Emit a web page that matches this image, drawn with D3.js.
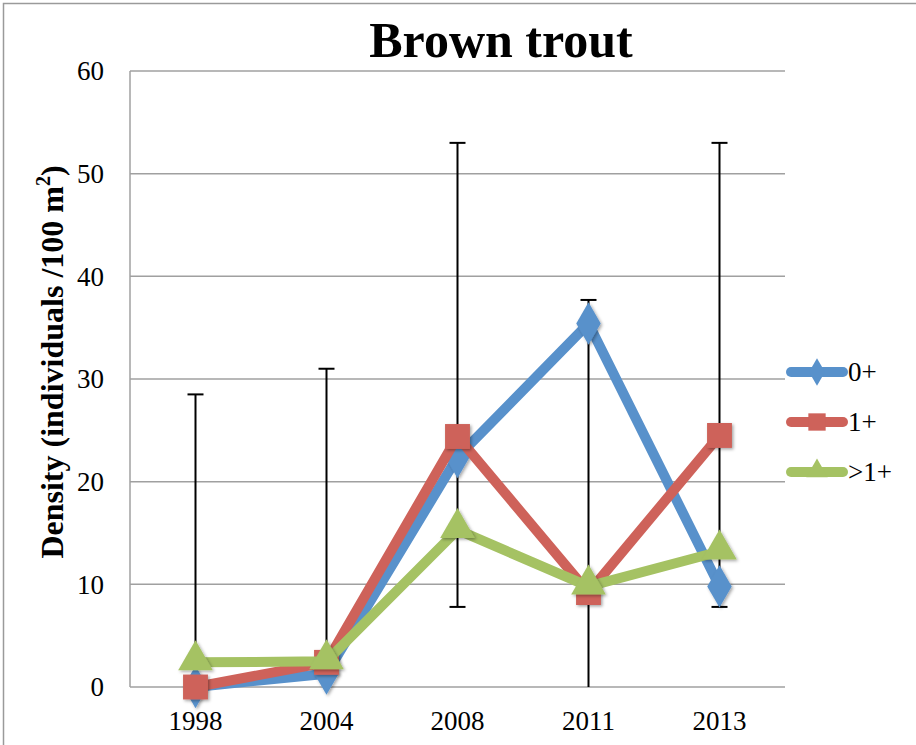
<!DOCTYPE html>
<html><head><meta charset="utf-8">
<script src="https://cdnjs.cloudflare.com/ajax/libs/d3/7.8.5/d3.min.js"></script>
<style>body{margin:0;background:#fff}svg{display:block}</style>
</head><body>
<script>
const years = ["1998","2004","2008","2011","2013"];
const seriesNames = ["0+","1+",">1+"];
const age0 = [0, 1.3, 22.4, 35.4, 9.8];
const age1 = [0, 2.4, 24.4, 9.2, 24.5];
const ageOlder = [2.4, 2.5, 15.3, 9.8, 13.2];
const errLow = [0, 0, 7.8, 0, 7.8];
const errHigh = [28.5, 31.0, 53.0, 37.7, 53.0];
const yTicks = [0,10,20,30,40,50,60];
const colors = ["#5891CB","#CE625A","#A5C263"];
const symbols = [d3.symbolDiamond, d3.symbolSquare, d3.symbolTriangle];

const W=916,H=745;
const svg=d3.select("body").append("svg").attr("width",W).attr("height",H);
const defs=svg.append("defs");
const f=defs.append("filter").attr("id","sh").attr("x","-50%").attr("y","-50%").attr("width","200%").attr("height","200%");
f.append("feDropShadow").attr("dx",1.5).attr("dy",1.5).attr("stdDeviation",1.5).attr("flood-color","#000").attr("flood-opacity",0.35);

svg.append("rect").attr("x",3.5).attr("y",3.5).attr("width",W+10).attr("height",H+10).attr("fill","none").attr("stroke","#9a9a9a").attr("stroke-width",1.5);

const L=130,R=785,T=71,B=687;
const x=d3.scaleBand().domain(years).range([L,R]);
const y=d3.scaleLinear().domain([0,60]).range([B,T]);
const serif="'Liberation Serif','DejaVu Serif',serif";

// gridlines
svg.append("g").selectAll("line").data(yTicks).join("line")
 .attr("x1",L).attr("x2",R).attr("y1",d=>y(d)).attr("y2",d=>y(d))
 .attr("stroke","#a0a0a0").attr("stroke-width",1.5);
svg.append("line").attr("x1",L).attr("x2",L).attr("y1",T).attr("y2",B).attr("stroke","#a0a0a0").attr("stroke-width",1.5);

// y tick labels
svg.append("g").selectAll("text").data(yTicks).join("text")
 .attr("x",104).attr("y",d=>y(d)).attr("dy","0.35em").attr("text-anchor","end")
 .attr("font-family",serif).attr("font-size",27).text(d=>d);
// x labels
svg.append("g").selectAll("text").data(years).join("text")
 .attr("x",d=>x(d)+x.bandwidth()/2).attr("y",730).attr("text-anchor","middle")
 .attr("font-family",serif).attr("font-size",27).text(d=>d);

// title
svg.append("text").attr("x",501).attr("y",57).attr("text-anchor","middle")
 .attr("font-family",serif).attr("font-weight","bold").attr("font-size",50).text("Brown trout");

// y label
const yl=svg.append("text").attr("transform","translate(63,362) rotate(-90)").attr("text-anchor","middle")
 .attr("font-family",serif).attr("font-weight","bold").attr("font-size",32);
yl.append("tspan").text("Density (individuals /100 m");
yl.append("tspan").attr("font-size",20).attr("dy",-13).text("2");
yl.append("tspan").attr("dy",13).text(")");

// error bars
const cx=d=>x(d)+x.bandwidth()/2;
const eb=svg.append("g").attr("stroke","#000").attr("stroke-width",2);
years.forEach((yr,i)=>{
  eb.append("line").attr("x1",cx(yr)).attr("x2",cx(yr)).attr("y1",y(errLow[i])).attr("y2",y(errHigh[i]));
  eb.append("line").attr("x1",cx(yr)-8).attr("x2",cx(yr)+8).attr("y1",y(errHigh[i])).attr("y2",y(errHigh[i]));
  if(errLow[i]>0) eb.append("line").attr("x1",cx(yr)-8).attr("x2",cx(yr)+8).attr("y1",y(errLow[i])).attr("y2",y(errLow[i]));
});

const data=[age0,age1,ageOlder];
const sizes=[520,620,520];
const line=d3.line().x((d,i)=>cx(years[i])).y(d=>y(d));
data.forEach((vals,s)=>{
  const g=svg.append("g");
  g.append("path").attr("d",line(vals)).attr("fill","none").attr("stroke",colors[s]).attr("stroke-width",10).attr("stroke-linejoin","round").attr("stroke-linecap","round");
  g.selectAll("path.m").data(vals).join("path").attr("class","m")
   .attr("transform",(d,i)=>`translate(${cx(years[i])},${y(d)+(s===2?-2:0)})`)
   .attr("d",d3.symbol().type(symbols[s]).size(sizes[s]))
   .attr("fill",colors[s]).attr("filter","url(#sh)");
});

// legend
const legY=[372,422,472];
seriesNames.forEach((n,s)=>{
  const g=svg.append("g");
  g.append("line").attr("x1",791).attr("x2",843).attr("y1",legY[s]).attr("y2",legY[s]).attr("stroke",colors[s]).attr("stroke-width",10).attr("stroke-linecap","round");
  g.append("path").attr("transform",`translate(817,${legY[s]+(s===2?-1:0)})`).attr("d",d3.symbol().type(symbols[s]).size(s===1?300:(s===0?220:200))).attr("fill",colors[s]);
  g.append("text").attr("x",848).attr("y",legY[s]).attr("dy","0.35em").attr("font-family",serif).attr("font-size",27).text(n);
});
</script>
</body></html>
